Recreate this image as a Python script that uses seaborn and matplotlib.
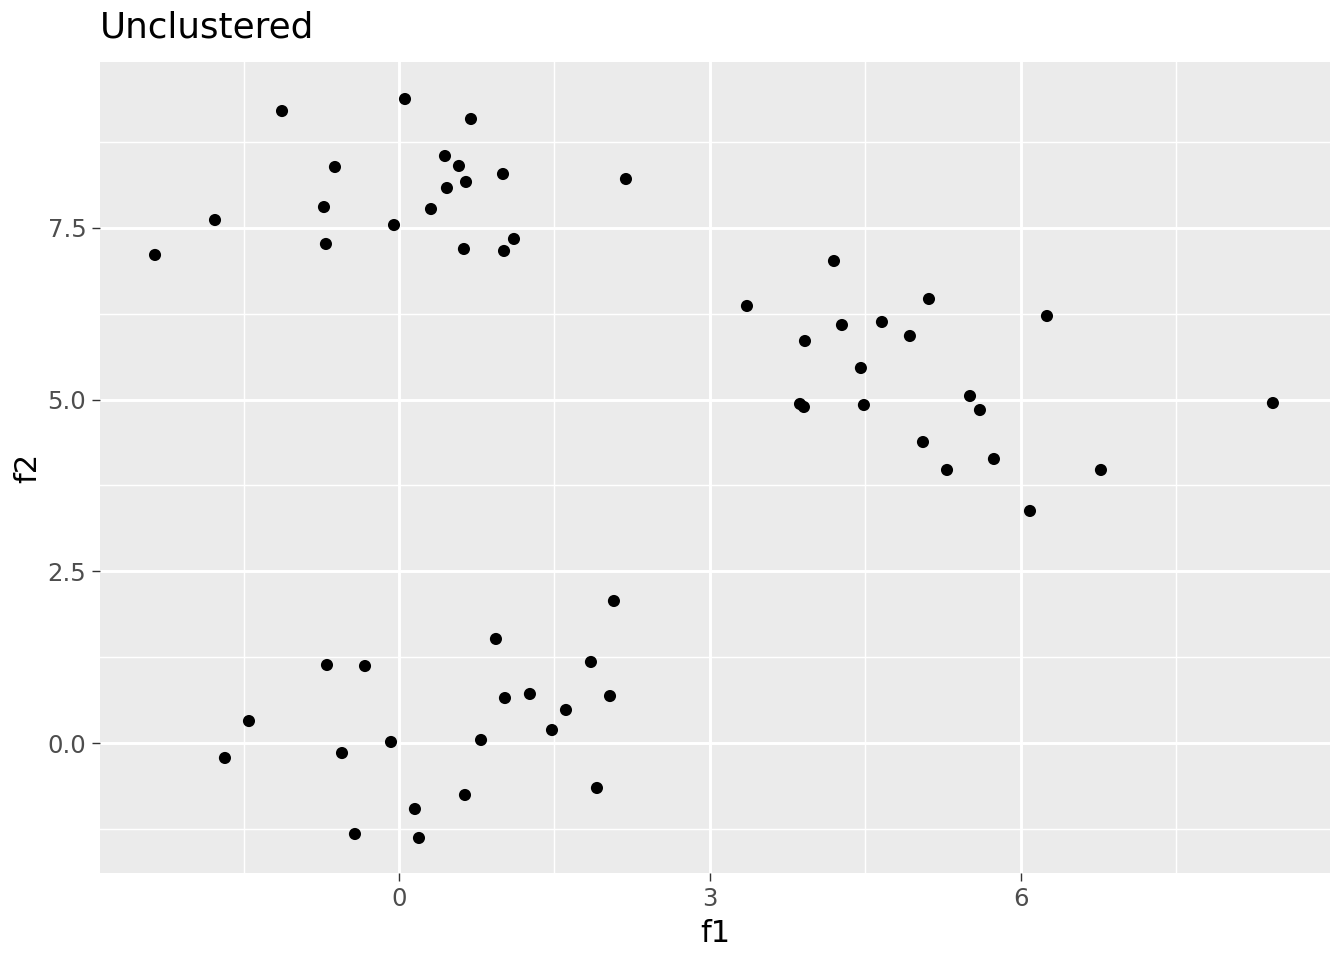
import numpy as np
import pandas as pd
import seaborn as sns
import matplotlib.pyplot as plt
from matplotlib.ticker import MultipleLocator

# Points
f1 = [-2.355, -1.776, -1.129, 0.058, 0.695, -0.618, 0.444, 0.579, 0.647, 0.463,
      1.004, 2.191, -0.724, 0.309, -0.048, -0.705, 0.627, 1.014, 1.110,
      3.359, 4.199, 5.116, 6.255, 4.662, 4.276, 4.932, 3.919, 4.459, 3.871,
      3.909, 4.488, 5.512, 5.608, 8.436, 5.058, 5.743, 5.290, 6.776, 6.091,
      2.075, 0.936, 1.853, -0.695, -0.328, 1.023, 1.264, 2.037, 1.612, -1.448,
      1.477, 0.792, -0.077, -0.550, -1.680, 1.911, 0.637, 0.154, -0.425, 0.193]
f2 = [7.107, 7.616, 9.203, 9.378, 9.087, 8.388, 8.548, 8.403, 8.170, 8.082,
      8.286, 8.213, 7.805, 7.776, 7.543, 7.267, 7.194, 7.165, 7.340,
      6.364, 7.019, 6.466, 6.218, 6.131, 6.087, 5.927, 5.854, 5.461, 4.937,
      4.893, 4.922, 5.053, 4.849, 4.951, 4.383, 4.136, 3.976, 3.976, 3.379,
      2.068, 1.515, 1.180, 1.136, 1.121, 0.655, 0.714, 0.684, 0.481, 0.320,
      0.189, 0.044, 0.015, -0.146, -0.218, -0.655, -0.757, -0.961, -1.325, -1.383]

df = pd.DataFrame({'f1': f1, 'f2': f2})

fig = plt.figure(figsize=(6.72, 4.8), dpi=200)
ax = fig.add_axes([100 / 1344, 1 - 873 / 960, 1230 / 1344, 811 / 960])
ax.set_facecolor('#EBEBEB')

sns.scatterplot(x='f1', y='f2', data=df, color='black', s=19, edgecolor='none',
                linewidth=0, ax=ax, zorder=3)

ax.set_xlim(-2.886, 8.987)
ax.set_ylim(-1.893, 9.917)
ax.xaxis.set_minor_locator(MultipleLocator(1.5))
ax.yaxis.set_minor_locator(MultipleLocator(1.25))
ax.set_yticks([0, 2.5, 5, 7.5])
ax.set_yticklabels(['0.0', '2.5', '5.0', '7.5'])
ax.set_xticks([0, 3, 6])
ax.set_xticklabels(['0', '3', '6'])

ax.grid(which='major', color='white', linewidth=1.07)
ax.grid(which='minor', color='white', linewidth=0.53)
ax.set_axisbelow(True)
for s in ax.spines.values():
    s.set_visible(False)

ax.tick_params(which='major', length=2.75, width=0.5, color='#333333',
               labelsize=8.8, labelcolor='#4D4D4D', pad=2.2)
ax.tick_params(which='minor', length=0)

ax.set_xlabel('f1', fontsize=11, labelpad=3)
ax.set_ylabel('f2', fontsize=11, labelpad=2)
fig.text(100 / 1344, 1 - 28 / 960, 'Unclustered', fontsize=12.9,
         ha='left', va='center')

fig.savefig('out.png', dpi=200)
